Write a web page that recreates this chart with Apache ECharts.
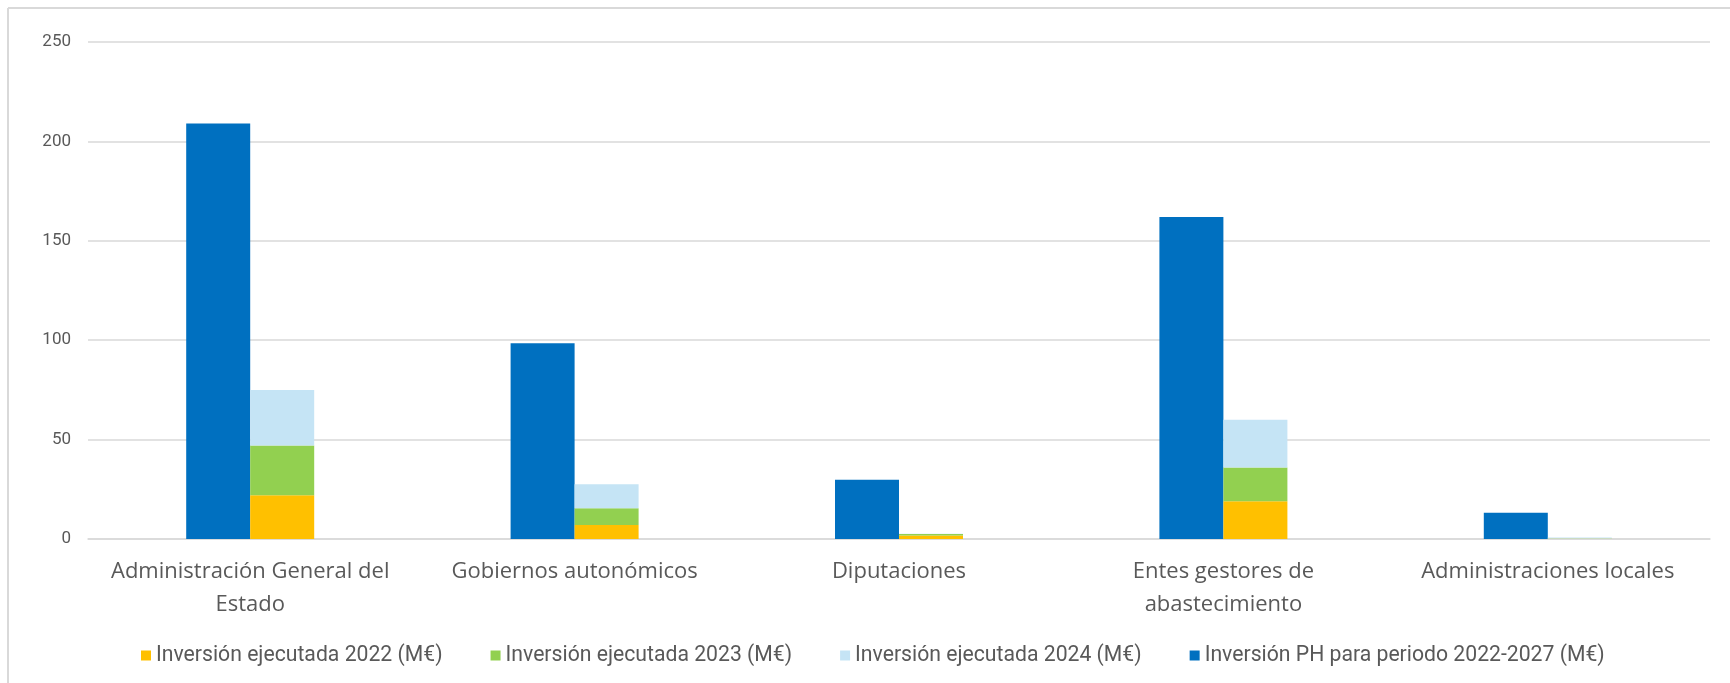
<!DOCTYPE html>
<html>
<head>
<meta charset="utf-8">
<script src="https://cdn.jsdelivr.net/npm/echarts@6/dist/echarts.min.js"></script>
<style>html,body{margin:0;padding:0;background:#fff;}#c{width:1730px;height:683px;}</style>
</head>
<body>
<div id="c"></div>
<script>
const categories = ['Administración General del\nEstado', 'Gobiernos autonómicos', 'Diputaciones', 'Entes gestores de\nabastecimiento', 'Administraciones locales'];
const inv2022 = [22, 7, 1.8, 19, 0.1];
const inv2023 = [25, 8.5, 0.7, 17, 0.1];
const inv2024 = [28, 12, 0.2, 24, 0.6];
const invPH = [209, 98.5, 29.8, 162, 13.2];
const yTicks = [0, 50, 100, 150, 200, 250];
const names = ['Inversión ejecutada 2022 (M€)', 'Inversión ejecutada 2023 (M€)', 'Inversión ejecutada 2024 (M€)', 'Inversión PH para periodo 2022-2027 (M€)'];

const chart = echarts.init(document.getElementById('c'));
chart.setOption({
  animation: false,
  backgroundColor: '#fff',
  graphic: [
    { type: 'line', shape: { x1: 8, y1: 8, x2: 1730, y2: 8 }, style: { stroke: '#d9d9d9', lineWidth: 2 } },
    { type: 'line', shape: { x1: 8, y1: 8, x2: 8, y2: 683 }, style: { stroke: '#d9d9d9', lineWidth: 2 } }
  ],
  grid: { left: 88, right: 20, top: 42, bottom: 144, containLabel: false },
  legend: {
    data: names,
    left: 136, top: 640,
    itemWidth: 10, itemHeight: 10, itemGap: 48,
    icon: 'rect',
    textStyle: { fontFamily: 'Roboto, sans-serif', fontSize: 21.2, color: '#595959', padding: [0,0,0,0] }
  },
  xAxis: {
    type: 'category',
    data: categories,
    axisLine: { lineStyle: { color: '#d9d9d9', width: 1.5 } },
    axisTick: { show: false },
    axisLabel: { fontFamily: '"Open Sans", sans-serif', fontSize: 22, color: '#595959', margin: 16, lineHeight: 33, interval: 0 }
  },
  yAxis: {
    type: 'value',
    min: 0, max: 250, interval: 50,
    axisLine: { show: false },
    axisTick: { show: false },
    splitLine: { lineStyle: { color: '#d9d9d9', width: 1.5 } },
    axisLabel: { fontFamily: 'Roboto, sans-serif', fontSize: 17, color: '#595959', margin: 17,
      formatter: v => yTicks.includes(v) ? String(v) : '' }
  },
  series: [
    { name: names[3], type: 'bar', data: invPH, barWidth: 64, barGap: '0%', itemStyle: { color: '#0070c0' } },
    { name: names[0], type: 'bar', stack: 'e', data: inv2022, barWidth: 64, barGap: '0%', itemStyle: { color: '#ffc000' } },
    { name: names[1], type: 'bar', stack: 'e', data: inv2023, barWidth: 64, barGap: '0%', itemStyle: { color: '#92d050' } },
    { name: names[2], type: 'bar', stack: 'e', data: inv2024, barWidth: 64, barGap: '0%', itemStyle: { color: '#c5e4f5' } }
  ]
});
</script>
</body>
</html>
